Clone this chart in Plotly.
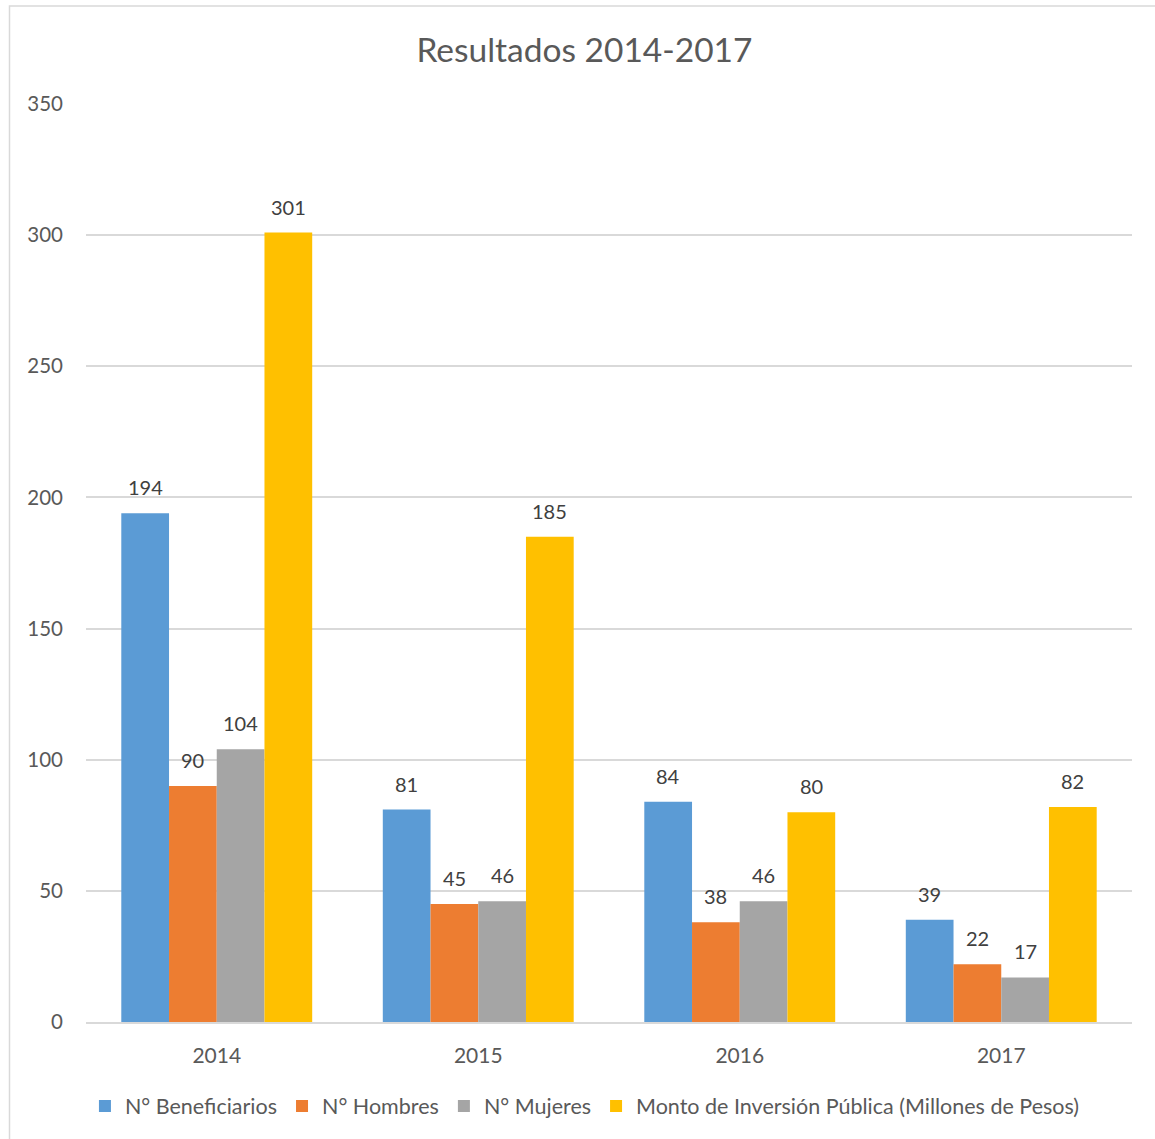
import plotly.graph_objects as go

# Program results by year
years = ["2014", "2015", "2016", "2017"]
series_names = [
    "N° Beneficiarios",
    "N° Hombres",
    "N° Mujeres",
    "Monto de Inversión Pública (Millones de Pesos)",
]
beneficiarios = [194, 81, 84, 39]
hombres = [90, 45, 38, 22]
mujeres = [104, 46, 46, 17]
monto = [301, 185, 80, 82]
colors = ["#5B9BD5", "#ED7D31", "#A5A5A5", "#FFC000"]
y_ticks = [0, 50, 100, 150, 200, 250, 300, 350]

FONT = "Lato, 'Open Sans', sans-serif"
TEXT = "#595959"
BARGAP = 0.27

all_series = [beneficiarios, hombres, mujeres, monto]

fig = go.Figure()
for name, vals, col in zip(series_names, all_series, colors):
    fig.add_trace(go.Bar(
        x=years, y=vals, name=name,
        marker=dict(color=col, line=dict(width=0)),
    ))

# value labels above each bar, placed at the bar's slot within its group
n = len(all_series)
slot = (1 - BARGAP) / n
annotations = []
for k, vals in enumerate(all_series):
    offset = (k - (n - 1) / 2) * slot
    for i, v in enumerate(vals):
        annotations.append(dict(
            x=i + offset, y=v, xref="x", yref="y",
            text=str(v), showarrow=False,
            xanchor="center", yanchor="bottom", yshift=12,
            font=dict(family=FONT, size=20, color="#404040"),
        ))

W, H = 1155, 1139
ml, mr, mt, mb = 86, 23, 104, 117
pw, ph = W - ml - mr, H - mt - mb

def px_x(p):
    return (p - ml) / pw

def px_y(p):
    return (H - mb - p) / ph

fig.update_layout(
    width=W, height=H,
    margin=dict(l=ml, r=mr, t=mt, b=mb),
    paper_bgcolor="white", plot_bgcolor="white",
    barmode="group", bargap=BARGAP, bargroupgap=0,
    title=dict(text="Resultados 2014-2017", x=0.506, xanchor="center",
               y=1 - 50 / H, yanchor="middle",
               font=dict(family=FONT, size=33.5, color=TEXT)),
    font=dict(family=FONT, size=20, color=TEXT),
    xaxis=dict(type="category", showgrid=False, showline=True,
               linecolor="#d9d9d9", linewidth=1.5,
               ticks="", ticklabelstandoff=14,
               tickfont=dict(family=FONT, size=21, color=TEXT)),
    yaxis=dict(range=[0, 350], tickvals=y_ticks, showgrid=True,
               gridcolor="#d9d9d9", gridwidth=1.5, zeroline=False,
               showline=False, ticks="", ticklabelstandoff=22,
               tickfont=dict(family=FONT, size=20.5, color=TEXT)),
    legend=dict(orientation="h", x=0.477, xanchor="center",
                y=px_y(1106), yanchor="middle",
                font=dict(family=FONT, size=21.5, color=TEXT),
                itemwidth=30, tracegroupgap=0),
    showlegend=True,
    annotations=annotations,
    shapes=[dict(type="rect", xref="paper", yref="paper",
                 x0=px_x(9.5), x1=px_x(1170), y0=px_y(1150), y1=px_y(6),
                 line=dict(color="#d9d9d9", width=1.5), layer="below")],
)

fig.write_html("out.html")
